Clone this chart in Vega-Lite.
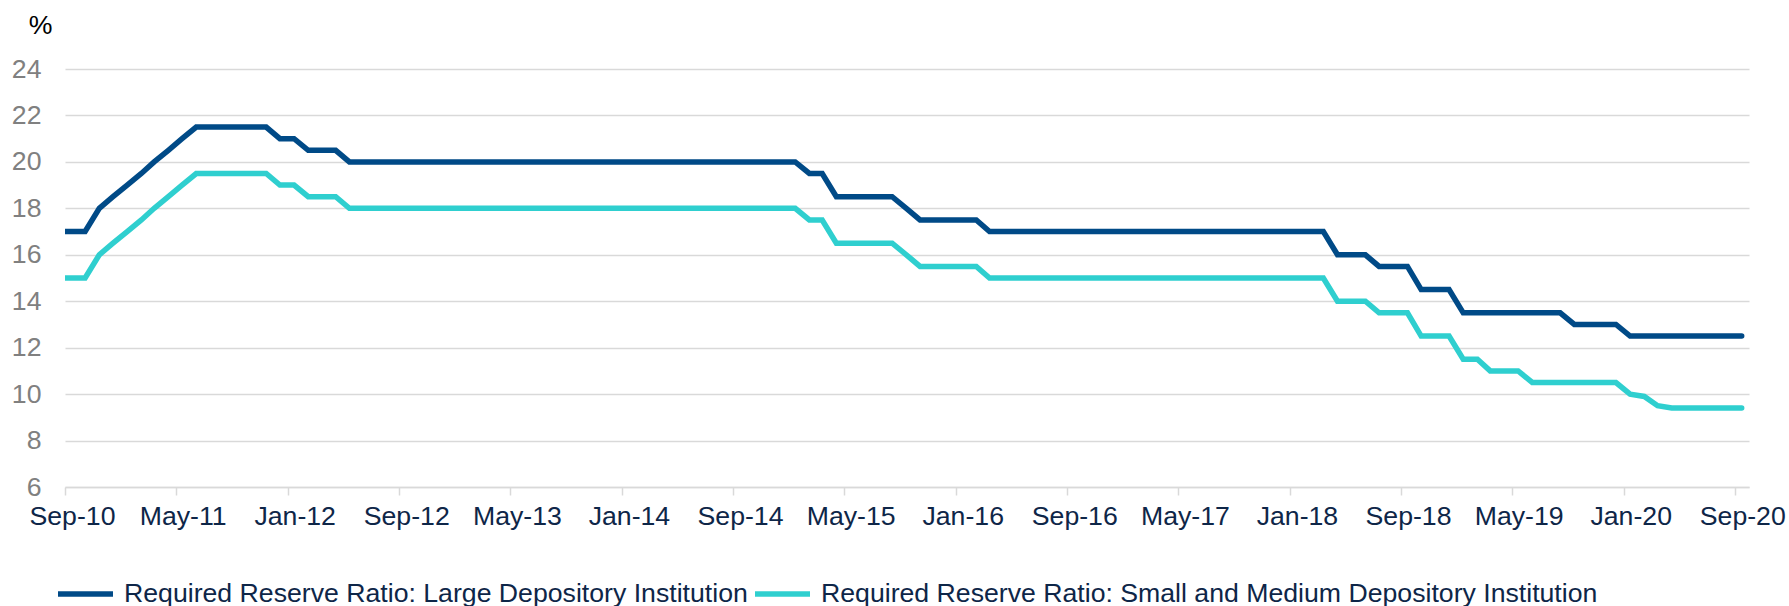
{
  "$schema": "https://vega.github.io/schema/vega-lite/v6.json",
  "width": 1684,
  "height": 418,
  "autosize": "none",
  "padding": {"left": 65, "top": 69, "right": 40, "bottom": 119},
  "background": "white",
  "config": {
    "font": "Liberation Sans",
    "view": {"stroke": null}
  },
  "data": {
    "values": [
      {"d": "2010-08-15", "L": 17, "S": 15},
      {"d": "2010-09-15", "L": 17, "S": 15},
      {"d": "2010-10-15", "L": 17, "S": 15},
      {"d": "2010-11-15", "L": 18, "S": 16},
      {"d": "2010-12-15", "L": 18.5, "S": 16.5},
      {"d": "2011-01-15", "L": 19, "S": 17},
      {"d": "2011-02-15", "L": 19.5, "S": 17.5},
      {"d": "2011-03-15", "L": 20, "S": 18},
      {"d": "2011-04-15", "L": 20.5, "S": 18.5},
      {"d": "2011-05-15", "L": 21, "S": 19},
      {"d": "2011-06-15", "L": 21.5, "S": 19.5},
      {"d": "2011-07-15", "L": 21.5, "S": 19.5},
      {"d": "2011-08-15", "L": 21.5, "S": 19.5},
      {"d": "2011-09-15", "L": 21.5, "S": 19.5},
      {"d": "2011-10-15", "L": 21.5, "S": 19.5},
      {"d": "2011-11-15", "L": 21.5, "S": 19.5},
      {"d": "2011-12-15", "L": 21, "S": 19},
      {"d": "2012-01-15", "L": 21, "S": 19},
      {"d": "2012-02-15", "L": 20.5, "S": 18.5},
      {"d": "2012-03-15", "L": 20.5, "S": 18.5},
      {"d": "2012-04-15", "L": 20.5, "S": 18.5},
      {"d": "2012-05-15", "L": 20, "S": 18},
      {"d": "2012-06-15", "L": 20, "S": 18},
      {"d": "2012-07-15", "L": 20, "S": 18},
      {"d": "2012-08-15", "L": 20, "S": 18},
      {"d": "2012-09-15", "L": 20, "S": 18},
      {"d": "2012-10-15", "L": 20, "S": 18},
      {"d": "2012-11-15", "L": 20, "S": 18},
      {"d": "2012-12-15", "L": 20, "S": 18},
      {"d": "2013-01-15", "L": 20, "S": 18},
      {"d": "2013-02-15", "L": 20, "S": 18},
      {"d": "2013-03-15", "L": 20, "S": 18},
      {"d": "2013-04-15", "L": 20, "S": 18},
      {"d": "2013-05-15", "L": 20, "S": 18},
      {"d": "2013-06-15", "L": 20, "S": 18},
      {"d": "2013-07-15", "L": 20, "S": 18},
      {"d": "2013-08-15", "L": 20, "S": 18},
      {"d": "2013-09-15", "L": 20, "S": 18},
      {"d": "2013-10-15", "L": 20, "S": 18},
      {"d": "2013-11-15", "L": 20, "S": 18},
      {"d": "2013-12-15", "L": 20, "S": 18},
      {"d": "2014-01-15", "L": 20, "S": 18},
      {"d": "2014-02-15", "L": 20, "S": 18},
      {"d": "2014-03-15", "L": 20, "S": 18},
      {"d": "2014-04-15", "L": 20, "S": 18},
      {"d": "2014-05-15", "L": 20, "S": 18},
      {"d": "2014-06-15", "L": 20, "S": 18},
      {"d": "2014-07-15", "L": 20, "S": 18},
      {"d": "2014-08-15", "L": 20, "S": 18},
      {"d": "2014-09-15", "L": 20, "S": 18},
      {"d": "2014-10-15", "L": 20, "S": 18},
      {"d": "2014-11-15", "L": 20, "S": 18},
      {"d": "2014-12-15", "L": 20, "S": 18},
      {"d": "2015-01-15", "L": 20, "S": 18},
      {"d": "2015-02-15", "L": 19.5, "S": 17.5},
      {"d": "2015-03-15", "L": 19.5, "S": 17.5},
      {"d": "2015-04-15", "L": 18.5, "S": 16.5},
      {"d": "2015-05-15", "L": 18.5, "S": 16.5},
      {"d": "2015-06-15", "L": 18.5, "S": 16.5},
      {"d": "2015-07-15", "L": 18.5, "S": 16.5},
      {"d": "2015-08-15", "L": 18.5, "S": 16.5},
      {"d": "2015-09-15", "L": 18, "S": 16},
      {"d": "2015-10-15", "L": 17.5, "S": 15.5},
      {"d": "2015-11-15", "L": 17.5, "S": 15.5},
      {"d": "2015-12-15", "L": 17.5, "S": 15.5},
      {"d": "2016-01-15", "L": 17.5, "S": 15.5},
      {"d": "2016-02-15", "L": 17.5, "S": 15.5},
      {"d": "2016-03-15", "L": 17, "S": 15},
      {"d": "2016-04-15", "L": 17, "S": 15},
      {"d": "2016-05-15", "L": 17, "S": 15},
      {"d": "2016-06-15", "L": 17, "S": 15},
      {"d": "2016-07-15", "L": 17, "S": 15},
      {"d": "2016-08-15", "L": 17, "S": 15},
      {"d": "2016-09-15", "L": 17, "S": 15},
      {"d": "2016-10-15", "L": 17, "S": 15},
      {"d": "2016-11-15", "L": 17, "S": 15},
      {"d": "2016-12-15", "L": 17, "S": 15},
      {"d": "2017-01-15", "L": 17, "S": 15},
      {"d": "2017-02-15", "L": 17, "S": 15},
      {"d": "2017-03-15", "L": 17, "S": 15},
      {"d": "2017-04-15", "L": 17, "S": 15},
      {"d": "2017-05-15", "L": 17, "S": 15},
      {"d": "2017-06-15", "L": 17, "S": 15},
      {"d": "2017-07-15", "L": 17, "S": 15},
      {"d": "2017-08-15", "L": 17, "S": 15},
      {"d": "2017-09-15", "L": 17, "S": 15},
      {"d": "2017-10-15", "L": 17, "S": 15},
      {"d": "2017-11-15", "L": 17, "S": 15},
      {"d": "2017-12-15", "L": 17, "S": 15},
      {"d": "2018-01-15", "L": 17, "S": 15},
      {"d": "2018-02-15", "L": 17, "S": 15},
      {"d": "2018-03-15", "L": 17, "S": 15},
      {"d": "2018-04-15", "L": 16, "S": 14},
      {"d": "2018-05-15", "L": 16, "S": 14},
      {"d": "2018-06-15", "L": 16, "S": 14},
      {"d": "2018-07-15", "L": 15.5, "S": 13.5},
      {"d": "2018-08-15", "L": 15.5, "S": 13.5},
      {"d": "2018-09-15", "L": 15.5, "S": 13.5},
      {"d": "2018-10-15", "L": 14.5, "S": 12.5},
      {"d": "2018-11-15", "L": 14.5, "S": 12.5},
      {"d": "2018-12-15", "L": 14.5, "S": 12.5},
      {"d": "2019-01-15", "L": 13.5, "S": 11.5},
      {"d": "2019-02-15", "L": 13.5, "S": 11.5},
      {"d": "2019-03-15", "L": 13.5, "S": 11},
      {"d": "2019-04-15", "L": 13.5, "S": 11},
      {"d": "2019-05-15", "L": 13.5, "S": 11},
      {"d": "2019-06-15", "L": 13.5, "S": 10.5},
      {"d": "2019-07-15", "L": 13.5, "S": 10.5},
      {"d": "2019-08-15", "L": 13.5, "S": 10.5},
      {"d": "2019-09-15", "L": 13, "S": 10.5},
      {"d": "2019-10-15", "L": 13, "S": 10.5},
      {"d": "2019-11-15", "L": 13, "S": 10.5},
      {"d": "2019-12-15", "L": 13, "S": 10.5},
      {"d": "2020-01-15", "L": 12.5, "S": 10},
      {"d": "2020-02-15", "L": 12.5, "S": 9.9},
      {"d": "2020-03-15", "L": 12.5, "S": 9.5},
      {"d": "2020-04-15", "L": 12.5, "S": 9.4},
      {"d": "2020-05-15", "L": 12.5, "S": 9.4},
      {"d": "2020-06-15", "L": 12.5, "S": 9.4},
      {"d": "2020-07-15", "L": 12.5, "S": 9.4},
      {"d": "2020-08-15", "L": 12.5, "S": 9.4},
      {"d": "2020-09-15", "L": 12.5, "S": 9.4}
    ]
  },
  "transform": [
    {"fold": ["L", "S"], "as": ["series", "value"]}
  ],
  "mark": {"type": "line", "strokeWidth": 5.5, "strokeCap": "round", "clip": true},
  "encoding": {
    "x": {
      "field": "d",
      "type": "temporal",
      "scale": {
        "type": "utc",
        "domain": [
          {"year": 2010, "month": 9, "date": 1, "utc": true},
          {"year": 2020, "month": 10, "date": 1, "utc": true}
        ]
      },
      "axis": {
        "title": null,
        "format": "%b-%y",
        "values": [
          {"year": 2010, "month": 9, "date": 1, "utc": true},
          {"year": 2011, "month": 5, "date": 1, "utc": true},
          {"year": 2012, "month": 1, "date": 1, "utc": true},
          {"year": 2012, "month": 9, "date": 1, "utc": true},
          {"year": 2013, "month": 5, "date": 1, "utc": true},
          {"year": 2014, "month": 1, "date": 1, "utc": true},
          {"year": 2014, "month": 9, "date": 1, "utc": true},
          {"year": 2015, "month": 5, "date": 1, "utc": true},
          {"year": 2016, "month": 1, "date": 1, "utc": true},
          {"year": 2016, "month": 9, "date": 1, "utc": true},
          {"year": 2017, "month": 5, "date": 1, "utc": true},
          {"year": 2018, "month": 1, "date": 1, "utc": true},
          {"year": 2018, "month": 9, "date": 1, "utc": true},
          {"year": 2019, "month": 5, "date": 1, "utc": true},
          {"year": 2020, "month": 1, "date": 1, "utc": true},
          {"year": 2020, "month": 9, "date": 1, "utc": true}
        ],
        "grid": false,
        "domain": true,
        "domainColor": "#d9d9d9",
        "domainWidth": 1.5,
        "ticks": true,
        "tickColor": "#d9d9d9",
        "tickSize": 8,
        "tickWidth": 1.5,
        "labelFontSize": 26.67,
        "labelColor": "#0e2648",
        "labelPadding": 8,
        "labelOffset": 7,
        "labelOverlap": false,
        "labelFlush": false
      }
    },
    "y": {
      "field": "value",
      "type": "quantitative",
      "scale": {"domain": [6, 24], "nice": false, "zero": false},
      "axis": {
        "title": "%",
        "titleAngle": 0,
        "titleX": -25,
        "titleY": -44,
        "titleAlign": "center",
        "titleBaseline": "middle",
        "titleFontSize": 26.67,
        "titleFontWeight": "normal",
        "titleColor": "#000000",
        "values": [6, 8, 10, 12, 14, 16, 18, 20, 22, 24],
        "grid": true,
        "gridColor": "#d9d9d9",
        "gridWidth": 1.5,
        "domain": false,
        "ticks": false,
        "tickSize": 0,
        "labelFontSize": 26.67,
        "labelColor": "#808080",
        "labelPadding": 24
      }
    },
    "color": {
      "field": "series",
      "type": "nominal",
      "scale": {"domain": ["L", "S"], "range": ["#004a87", "#2fcfcf"]},
      "legend": {
        "title": null,
        "orient": "none",
        "direction": "horizontal",
        "legendX": -10,
        "legendY": 494,
        "padding": 0,
        "symbolType": "stroke",
        "symbolSize": 3025,
        "symbolStrokeWidth": 5.5,
        "labelFontSize": 26.67,
        "labelColor": "#0e2648",
        "labelOffset": 8,
        "columnPadding": -4,
        "labelLimit": 1000,
        "labelExpr": "datum.label == 'L' ? 'Required Reserve Ratio: Large Depository Institution' : 'Required Reserve Ratio: Small and Medium Depository Institution'"
      }
    }
  }
}
